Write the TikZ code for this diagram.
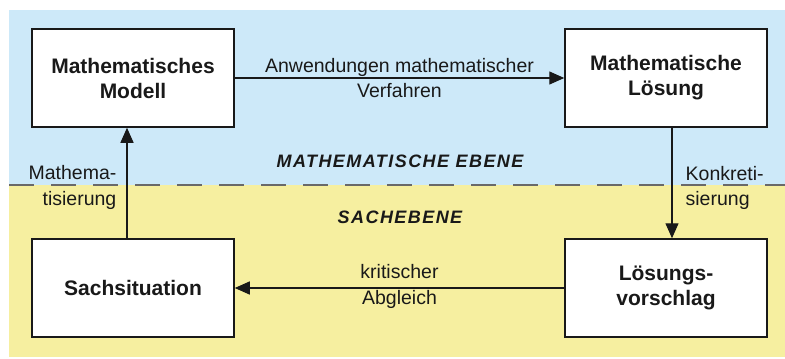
\documentclass[tikz,border=0pt]{standalone}
\usepackage{fontspec}
\setmainfont{Liberation Sans}
\usetikzlibrary{arrows.meta}

\definecolor{mathblue}{RGB}{205,233,249}
\definecolor{sachyellow}{RGB}{246,239,160}
\definecolor{ink}{RGB}{25,25,25}
\definecolor{dashgray}{RGB}{105,105,105}

\begin{document}
\begin{tikzpicture}[x=1pt,y=-1pt,
  stage/.style={draw=ink, line width=1.5pt, fill=white,
    minimum width=202pt, minimum height=98pt, inner sep=0pt,
    align=center, text=ink, font=\bfseries\fontsize{21}{25}\selectfont},
  flow/.style={draw=ink, line width=1.3pt,
    -{Triangle[length=15pt,width=13pt]}},
  note/.style={inner sep=0pt, text=ink,
    font=\fontsize{19.5}{25.5}\selectfont},
  level/.style={inner sep=0pt, text=ink,
    font=\bfseries\itshape\fontsize{18}{22}\selectfont\addfontfeatures{LetterSpace=8}},
  divider/.style={draw=dashgray, line width=2pt, dash pattern=on 25pt off 17pt}
]
\useasboundingbox (0,0) rectangle (785,359);

% the two levels
\fill[mathblue] (9,10) rectangle (785,185);
\fill[sachyellow] (9,185) rectangle (785,357);
\draw[divider] (9,185) -- (785,185);

\node[level] (mathlevel) at (400,161) {MATHEMATISCHE EBENE};
\node[level] (sachlevel) at (400,217) {SACHEBENE};

% the four stages of the modelling cycle
\node[stage] (modell) at (133,78) {Mathematisches\\Modell};
\node[stage] (loesung) at (666,78) {Mathematische\\Lösung};
\node[stage] (sache) at (133,288) {Sachsituation};
\node[stage] (vorschlag) at (666,288) {Lösungs-\\vorschlag};

% transitions
\draw[flow] (modell) -- (loesung)
  node[note, midway, align=center] {Anwendungen mathematischer\\Verfahren};
\draw[flow] ([xshift=6pt]loesung.south) -- ([xshift=6pt]vorschlag.north)
  node[note, midway, right=13pt, yshift=-5pt, align=left] {Konkreti-\\sierung};
\draw[flow] (vorschlag) -- (sache)
  node[note, midway, yshift=1.7pt, align=center] {kritischer\\Abgleich};
\draw[flow] ([xshift=-6pt]sache.north) -- ([xshift=-6pt]modell.south)
  node[note, midway, left=10pt, yshift=-4.5pt, align=right] {Mathema-\\tisierung};
\end{tikzpicture}
\end{document}
